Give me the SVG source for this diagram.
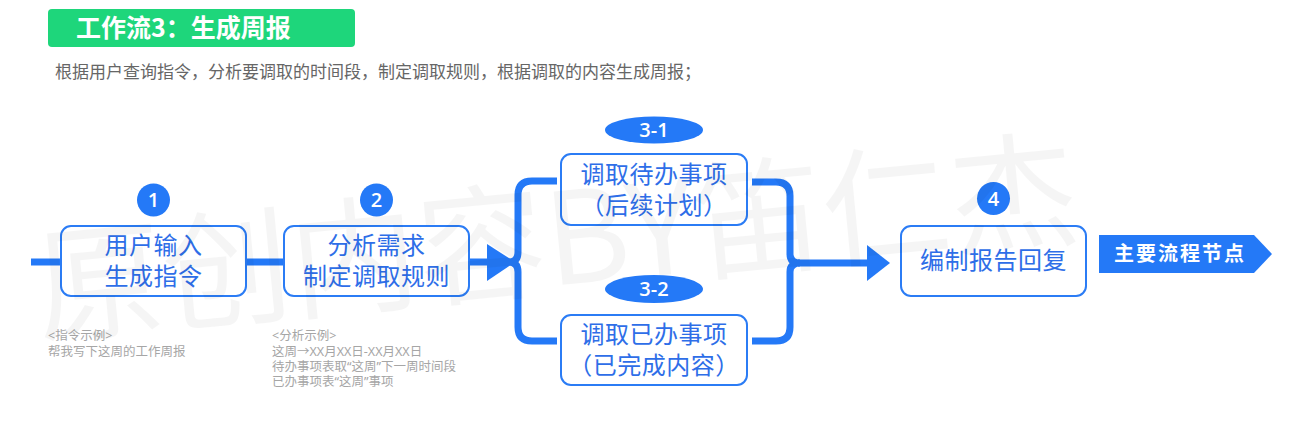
<svg xmlns="http://www.w3.org/2000/svg" width="1293" height="429" viewBox="0 0 1293 429">
<style>
text{font-family:"Noto Sans CJK SC","Noto Sans",sans-serif}
.box{fill:#fff;stroke:#2b7cf5;stroke-width:2}
.bt{font-size:24px;fill:#2e6ee8;text-anchor:middle;letter-spacing:0.5px;font-family:"Noto Sans","Noto Sans CJK SC",sans-serif}
.badge{fill:#2479f7}
.num{font-size:20px;font-weight:600;fill:#fff;text-anchor:middle;font-family:"Open Sans","Noto Sans",sans-serif}
.conn{fill:none;stroke:#2479f7;stroke-width:7}
.ann{font-size:12.5px;fill:#a6a6a6;font-family:"Noto Sans","Noto Sans CJK SC",sans-serif}
</style>
<rect width="1293" height="429" fill="#fff"/>
<g id="title">
<rect x="48" y="9" width="307" height="38" rx="4" fill="#1ed67b"/>
<text x="76" y="37" font-size="25" font-weight="600" fill="#fff">工作流3：生成周报</text>
</g>
<text id="subtitle" x="55" y="78" font-size="17" fill="#666">根据用户查询指令，分析要调取的时间段，制定调取规则，根据调取的内容生成周报；</text>
<g id="connectors">
<line class="conn" x1="31" y1="262" x2="62" y2="262"/>
<line class="conn" x1="246" y1="262" x2="284" y2="262"/>
<line class="conn" x1="469" y1="262" x2="500" y2="262"/>
<polygon points="487,244 487,281 515,262" fill="#2479f7"/>
<path class="conn" d="M557,181 H532 Q518,181 518,195 V252 Q518,262 509,262 Q518,262 518,272 V327 Q518,341 532,341 H557" stroke-width="6"/>
<path class="conn" d="M752,182 H776 Q790,182 790,196 V254 Q790,263 800,263 Q790,263 790,272 V327 Q790,341 776,341 H752" stroke-width="6"/>
<line class="conn" x1="798" y1="263" x2="870" y2="263"/>
<polygon points="867,245 867,281 890,263" fill="#2479f7"/>
</g>
<g id="node1">
<rect class="box" x="61" y="226" width="185" height="70" rx="10"/>
<text class="bt" x="153.5" y="254">用户输入<tspan x="153.5" dy="31">生成指令</tspan></text>
<circle class="badge" cx="153.5" cy="200" r="16.5"/>
<text class="num" x="153.5" y="207">1</text>
</g>
<g id="node2">
<rect class="box" x="284" y="226" width="185" height="70" rx="10"/>
<text class="bt" x="376.5" y="254">分析需求<tspan x="376.5" dy="31">制定调取规则</tspan></text>
<circle class="badge" cx="376.5" cy="200" r="16.5"/>
<text class="num" x="376.5" y="207">2</text>
</g>
<g id="node3-1">
<rect class="box" x="561" y="154" width="186" height="71" rx="10"/>
<text class="bt" x="654" y="183">调取待办事项<tspan x="654" dy="31">（后续计划）</tspan></text>
<ellipse class="badge" cx="654" cy="130" rx="49" ry="13.5"/>
<text class="num" x="654" y="137">3-1</text>
</g>
<g id="node3-2">
<rect class="box" x="561" y="315" width="186" height="70" rx="10"/>
<text class="bt" x="654" y="343">调取已办事项<tspan x="654" dy="31">（已完成内容）</tspan></text>
<ellipse class="badge" cx="654" cy="289" rx="49" ry="14"/>
<text class="num" x="654" y="296">3-2</text>
</g>
<g id="node4">
<rect class="box" x="901" y="226" width="185" height="70" rx="10"/>
<text class="bt" x="993.5" y="269">编制报告回复</text>
<circle class="badge" cx="993.5" cy="198.5" r="16.5"/>
<text class="num" x="993.5" y="205.5">4</text>
</g>
<g id="legend">
<polygon points="1099,235 1254,235 1272,254 1254,273 1099,273" fill="#2479f7"/>
<text x="1114" y="261" font-size="20" font-weight="bold" fill="#fff" letter-spacing="2">主要流程节点</text>
</g>
<g id="notes">
<text class="ann" x="48" y="340">&lt;指令示例&gt;<tspan x="48" dy="16">帮我写下这周的工作周报</tspan></text>
<text class="ann" x="272" y="340">&lt;分析示例&gt;<tspan x="272" dy="16">这周→XX月XX日-XX月XX日</tspan><tspan x="272" dy="15">待办事项表取“这周”下一周时间段</tspan><tspan x="272" dy="15">已办事项表“这周”事项</tspan></text>
</g>
<text id="watermark" x="40" y="335" font-size="128" fill="#000" fill-opacity="0.04" transform="rotate(-5.5 40 335)">原创内容BY笛仁杰</text>
</svg>
